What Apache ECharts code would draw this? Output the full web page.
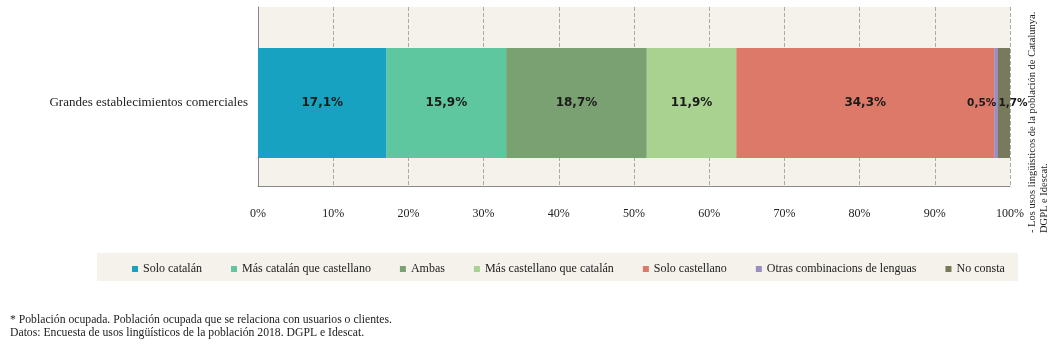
<!DOCTYPE html>
<html><head><meta charset="utf-8">
<script src="https://cdn.jsdelivr.net/npm/echarts@6/dist/echarts.min.js"></script>
<style>html,body{margin:0;padding:0;background:#fff}#c{width:1057px;height:350px}</style>
</head><body><div id="c"></div>
<script>
var categories = ['Grandes establecimientos comerciales'];
var seriesNames = ['Solo catalán','Más catalán que castellano','Ambas','Más castellano que catalán','Solo castellano','Otras combinacions de lenguas','No consta'];
var seriesValues = [[17.1],[15.9],[18.7],[11.9],[34.3],[0.5],[1.7]];
var seriesColors = ['#17A2C1','#5EC79F','#7AA172','#A9D290','#DC7968','#9B8DC0','#787A5C'];
var xTicks = [0,10,20,30,40,50,60,70,80,90,100];
var footnote1 = '* Población ocupada. Población ocupada que se relaciona con usuarios o clientes.';
var footnote2 = 'Datos: Encuesta de usos lingüísticos de la población 2018. DGPL e Idescat.';
var sideNote = '- Los usos lingüísticos de la población de Catalunya.\nDGPL e Idescat.';

var serif = '"Liberation Serif", "DejaVu Serif", serif';
var chart = echarts.init(document.getElementById('c'));
var series = seriesNames.map(function(n,i){
  var lbl = {show:true, position:'inside', color:'#1a1a1a', fontFamily:'"DejaVu Sans", sans-serif', fontSize:12, fontWeight:'bold',
    formatter:function(p){return String(p.value).replace('.',',')+'%';}};
  if (i===5) { lbl.position='left'; lbl.distance=-2; lbl.fontSize=10.5; }
  if (i===6) { lbl.offset=[9,0]; lbl.fontSize=10.5; }
  return {name:n, type:'bar', stack:'t', barWidth:110, xAxisIndex:1, yAxisIndex:1, data:seriesValues[i], itemStyle:{color:seriesColors[i]}, label:lbl};
});
chart.setOption({
  animation:false,
  grid:[
    {left:258, right:47, top:7, bottom:164, show:true, backgroundColor:'#F5F1EB', borderWidth:0},
    {left:258, right:47, top:20, bottom:164}
  ],
  xAxis:[
    {type:'value', gridIndex:0, min:0, max:100, interval:10,
      axisLine:{show:true, lineStyle:{color:'#888', width:1}}, axisTick:{show:false},
      axisLabel:{fontFamily:serif, fontSize:12, color:'#222', margin:22, formatter:'{value}%'},
      splitLine:{show:true, lineStyle:{type:'dashed', color:'#aaa', width:1}}},
    {type:'value', gridIndex:1, min:0, max:100, show:false}
  ],
  yAxis:[
    {type:'category', gridIndex:0, data:[''],
      axisLine:{show:true, lineStyle:{color:'#888', width:1}}, axisTick:{show:false}, axisLabel:{show:false}},
    {type:'category', gridIndex:1, data:categories,
      axisLine:{show:false}, axisTick:{show:false},
      axisLabel:{fontFamily:serif, fontSize:13, color:'#222', margin:10}}
  ],
  legend:{bottom:70, left:127, itemWidth:6, itemHeight:6, itemGap:29, icon:'rect',
    textStyle:{fontFamily:serif, fontSize:12, color:'#222'}, data:seriesNames},
  graphic:[
    {type:'rect', z:-1, shape:{x:97, y:253, width:921, height:28}, style:{fill:'#F5F1EB'}},
    {type:'text', left:10, top:313, style:{text:footnote1+'\n'+footnote2, font:'11.7px '+serif, fill:'#222', lineHeight:13}},
    {type:'text', x:1026, y:233, rotation:Math.PI/2, style:{text:sideNote, font:'10.5px '+serif, fill:'#222', lineHeight:12, textAlign:'left', textVerticalAlign:'top'}}
  ],
  series:series
});
</script></body></html>
